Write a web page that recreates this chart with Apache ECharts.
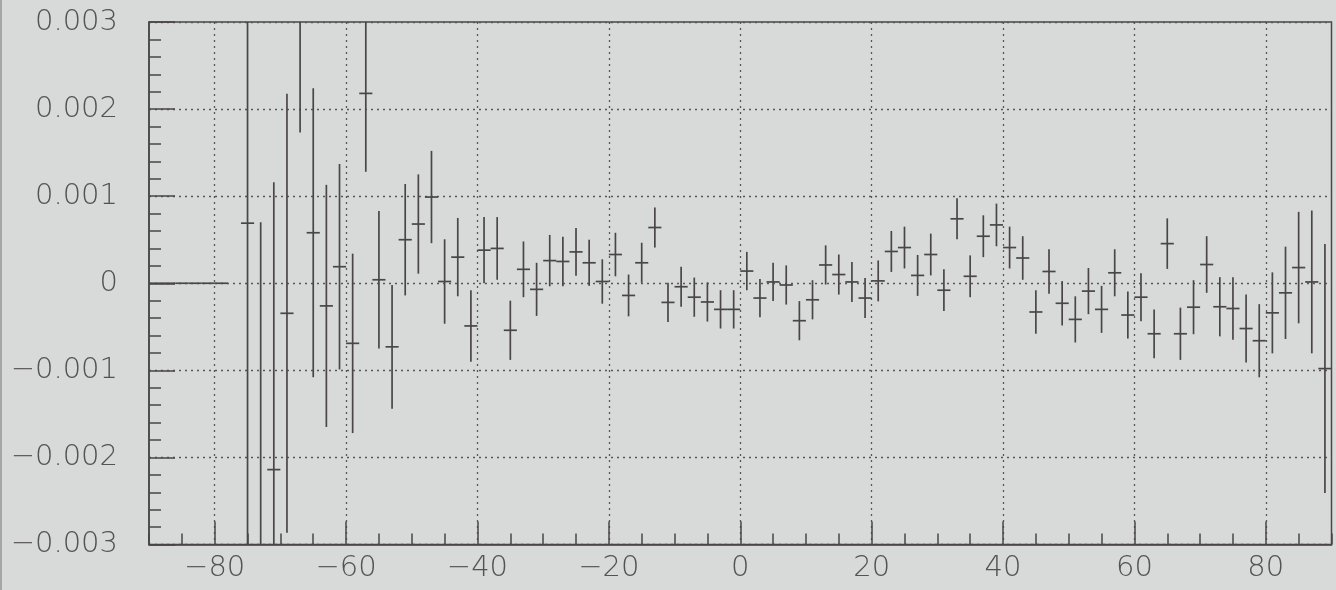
<!DOCTYPE html>
<html>
<head>
<meta charset="utf-8">
<script src="https://cdn.jsdelivr.net/npm/echarts@6/dist/echarts.min.js"></script>
<style>
  html, body { margin: 0; padding: 0; background: #d7dad9; }
  #chart { width: 1336px; height: 590px; }
</style>
</head>
<body>
<div id="chart"></div>
<script>
// Bin centres (bin width 2)
const binCenters = [
  -89, -87, -85, -83, -81, -79, -77, -75, -73, -71, -69, -67, -65, -63, -61, -59,
  -57, -55, -53, -51, -49, -47, -45, -43, -41, -39, -37, -35, -33, -31, -29, -27,
  -25, -23, -21, -19, -17, -15, -13, -11, -9, -7, -5, -3, -1, 1, 3, 5, 7, 9,
  11, 13, 15, 17, 19, 21, 23, 25, 27, 29, 31, 33, 35, 37, 39, 41, 43, 45, 47, 49,
  51, 53, 55, 57, 59, 61, 63, 65, 67, 69, 71, 73, 75, 77, 79, 81, 83, 85, 87, 89
];
// Measured values
const values = [
  0, 0, 0, 0, 0, 0, null, 0.00069, -0.0031, -0.00214, -0.000345, 0.0035, 0.00058, -0.00026, 0.00019, -0.00069,
  0.00218, 0.00004, -0.00073, 0.00050, 0.00068, 0.00099, 0.00002, 0.00030, -0.00049, 0.00038, 0.00040, -0.00054, 0.00016, -0.00007, 0.00026, 0.00025,
  0.00036, 0.000235, 0.00002, 0.00033, -0.00014, 0.000235, 0.00064, -0.00022, -0.00004, -0.00016, -0.000215, -0.00030, -0.00030, 0.00014, -0.00017, 0.000015, -0.00002, -0.00043,
  -0.00019, 0.00021, 0.00010, 0.000015, -0.00017, 0.000027, 0.000365, 0.00041, 0.00009, 0.00033, -0.00008, 0.00074, 0.00008, 0.00054, 0.00067, 0.00041, 0.00029, -0.00033, 0.000135, -0.00023,
  -0.000415, -0.00009, -0.00030, 0.00012, -0.000365, -0.00016, -0.00058, 0.000455, -0.00058, -0.000275, 0.000215, -0.00027, -0.00029, -0.00052, -0.00066, -0.00034, -0.00011, 0.00018, 0.000015, -0.00098
];
// Symmetric errors
const errors = [
  0, 0, 0, 0, 0, 0, null, 0.0045, 0.0038, 0.0033, 0.00252, 0.00177, 0.00166, 0.00139, 0.00118, 0.00103,
  0.00090, 0.00079, 0.00071, 0.00064, 0.00057, 0.00053, 0.000485, 0.00045, 0.00041, 0.00038, 0.00036, 0.00034, 0.00032, 0.000305, 0.000295, 0.000285,
  0.000275, 0.000265, 0.000255, 0.00025, 0.00024, 0.00023, 0.00023, 0.000225, 0.00023, 0.000225, 0.000225, 0.00022, 0.00022, 0.00022, 0.00022, 0.00022, 0.000225, 0.000225,
  0.000225, 0.000225, 0.00023, 0.00023, 0.00023, 0.000235, 0.000235, 0.00024, 0.000235, 0.00024, 0.00024, 0.000235, 0.00024, 0.00024, 0.000245, 0.00024, 0.00025, 0.00025, 0.000255, 0.000255,
  0.000265, 0.000265, 0.00027, 0.00027, 0.00027, 0.000275, 0.00028, 0.00029, 0.00030, 0.00031, 0.000325, 0.00034, 0.00036, 0.00039, 0.00042, 0.000465, 0.00053, 0.00064, 0.00082, 0.00143
];
const xTickLabels = [-80, -60, -40, -20, 0, 20, 40, 60, 80];
const halfBin = 1;

const data = [];
for (let i = 0; i < binCenters.length; i++) {
  if (values[i] === null) continue;
  data.push([binCenters[i], values[i], errors[i]]);
}

const ink = '#4a4646';
const gridInk = '#5a5656';
const labelFont = { fontFamily: 'DejaVu Sans', fontWeight: 200, fontSize: 29, color: '#555252' };

function minus(s) { return String(s).replace('-', '\u2212'); }

const chart = echarts.init(document.getElementById('chart'), null, { renderer: 'canvas' });
chart.setOption({
  backgroundColor: '#d7dad9',
  animation: false,
  graphic: [{ type: 'rect', left: 0, top: 0, shape: { width: 2, height: 590 }, style: { fill: '#a3a6a5' } }],
  grid: { left: 149, right: 4.5, top: 22, bottom: 45.5, show: true, borderColor: ink, borderWidth: 1.5, backgroundColor: 'transparent' },
  xAxis: [
    {
      type: 'value', min: -90, max: 90, interval: 5, position: 'bottom',
      axisLine: { show: true, onZero: false, lineStyle: { color: ink, width: 1.5 } },
      axisTick: { show: true, inside: true, length: 11, lineStyle: { color: ink, width: 1.5 } },
      axisLabel: { show: false },
      splitLine: { show: false }
    },
    {
      type: 'value', min: -90, max: 90, position: 'bottom', offset: 0,
      axisLine: { show: false, onZero: false },
      axisTick: { show: true, inside: true, length: 23, customValues: xTickLabels, lineStyle: { color: ink, width: 1.5 } },
      axisLabel: Object.assign({ show: true, margin: 9, customValues: xTickLabels, formatter: v => minus(v) }, labelFont),
      splitLine: { show: true, lineStyle: { color: gridInk, width: 1.3, type: [2, 4] } }
    }
  ],
  yAxis: {
    type: 'value', min: -0.003, max: 0.003, interval: 0.001,
    axisLine: { show: true, onZero: false, lineStyle: { color: ink, width: 1.5 } },
    axisTick: { show: true, inside: true, length: 26, lineStyle: { color: ink, width: 1.5 } },
    minorTick: { show: true, splitNumber: 5, length: 12, lineStyle: { color: ink, width: 1.5 } },
    axisLabel: Object.assign({
      margin: 31,
      formatter: v => {
        if (Math.abs(v) < 1e-9) return '0';
        return (v < 0 ? '\u2212' : '') + Math.abs(v).toFixed(3);
      }
    }, labelFont),
    splitLine: { show: true, lineStyle: { color: gridInk, width: 1.3, type: [2, 4] } },
    minorSplitLine: { show: false }
  },
  series: [{
    type: 'custom',
    xAxisIndex: 0,
    data: data,
    renderItem: function (params, api) {
      const x = api.value(0), y = api.value(1), e = api.value(2);
      const cs = params.coordSys;
      const yTop = cs.y, yBot = cs.y + cs.height;
      const xl = cs.x, xr = cs.x + cs.width;
      const c = api.coord([x, y]);
      const t = api.coord([x, y + e]);
      const b = api.coord([x, y - e]);
      const l = api.coord([x - halfBin, y]);
      const r = api.coord([x + halfBin, y]);
      const children = [];
      const style = { stroke: ink, lineWidth: 1.7 };
      if (e > 0) {
        const y1 = Math.max(yTop, Math.min(yBot, t[1]));
        const y2 = Math.max(yTop, Math.min(yBot, b[1]));
        if (y2 > y1) children.push({ type: 'line', shape: { x1: c[0], y1: y1, x2: c[0], y2: y2 }, style: style });
      }
      if (c[1] >= yTop && c[1] <= yBot) {
        children.push({ type: 'line', shape: { x1: Math.max(xl, l[0]), y1: c[1], x2: Math.min(xr, r[0]), y2: c[1] }, style: style });
      }
      return { type: 'group', children: children };
    }
  }]
});
</script>
</body>
</html>
